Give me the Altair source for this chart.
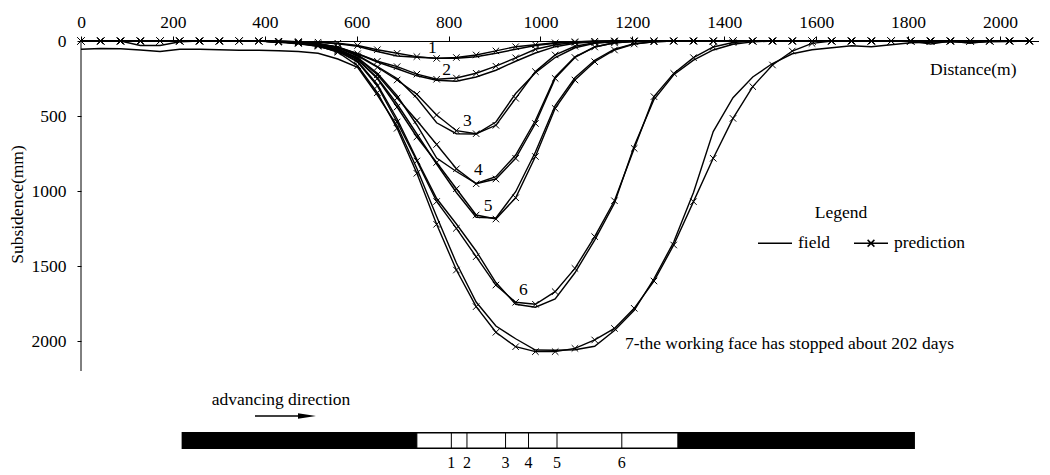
import altair as alt
import pandas as pd

# ---------------- data ----------------
distance = [0, 43, 86, 129, 172, 215, 258, 301, 344, 387,
            430, 473, 516, 559, 602, 645, 688, 731, 774, 817,
            860, 903, 946, 989, 1032, 1075, 1118, 1161, 1204, 1247,
            1290, 1333, 1376, 1419, 1462, 1505, 1548, 1591, 1634, 1677,
            1720, 1763, 1806, 1849, 1892, 1935, 1978, 2021, 2064]

pred_1 = [0, 0, 0, 0, 0, 0, 0, 0, 0, 0,
          2, 5, 8, 15, 30, 58, 82, 104, 116, 110,
          93, 66, 38, 25, 12, 5, 2, 0, 0, 0,
          0, 0, 0, 0, 0, 0, 0, 0, 0, 0,
          0, 0, 0, 0, 0, 0, 0, 0, 0]
pred_2 = [0, 0, 0, 0, 0, 0, 0, 0, 0, 0,
          2, 6, 18, 40, 85, 135, 171, 221, 255, 247,
          215, 168, 112, 55, 25, 10, 3, 0, 0, 0,
          0, 0, 0, 0, 0, 0, 0, 0, 0, 0,
          0, 0, 0, 0, 0, 0, 0, 0, 0]
pred_3 = [0, 0, 0, 0, 0, 0, 0, 0, 0, 0,
          4, 10, 22, 45, 100, 175, 260, 355, 493, 598,
          618, 562, 382, 204, 93, 35, 12, 4, 0, 0,
          0, 0, 0, 0, 0, 0, 0, 0, 0, 0,
          0, 0, 0, 0, 0, 0, 0, 0, 0]
pred_4 = [0, 0, 0, 0, 0, 0, 0, 0, 0, 0,
          5, 12, 26, 55, 115, 225, 380, 530, 690, 852,
          952, 920, 782, 550, 249, 110, 40, 12, 3, 0,
          0, 0, 0, 0, 0, 0, 0, 0, 0, 0,
          0, 0, 0, 0, 0, 0, 0, 0, 0]
pred_5 = [0, 0, 0, 0, 0, 0, 0, 0, 0, 0,
          5, 13, 30, 62, 125, 250, 440, 640, 810, 985,
          1160, 1187, 1045, 770, 449, 260, 138, 60, 20, 5,
          0, 0, 0, 0, 0, 0, 0, 0, 0, 0,
          0, 0, 0, 0, 0, 0, 0, 0, 0]
pred_6 = [0, 0, 0, 0, 0, 0, 0, 0, 0, 0,
          6, 15, 35, 70, 140, 300, 540, 800, 1070, 1249,
          1438, 1627, 1742, 1755, 1671, 1516, 1304, 1065, 716, 371,
          216, 111, 40, 10, 0, 0, 0, 0, 0, 0,
          0, 0, 0, 0, 0, 0, 0, 0, 0]
pred_7 = [0, 0, 0, 0, 0, 0, 0, 0, 0, 0,
          6, 14, 30, 75, 165, 345, 582, 882, 1222, 1527,
          1771, 1942, 2038, 2071, 2071, 2049, 1993, 1916, 1782, 1600,
          1360, 1071, 782, 516, 304, 160, 67, 16, 0, 0,
          0, 0, 0, 0, 0, 0, 0, 0, 0]

field_1 = [0, 0, 0, 0, 0, 0, 0, 0, 0, 0,
           2, 4, 8, 18, 35, 70, 100, 108, 115, 115,
           105, 82, 55, 30, 15, 6, 2, 0, 0, 0,
           0, 0, 0, 0, 0, 0, 0, 0, 0, 0,
           0, 0, 0, 0, 0, 0, 0, 0, 0]
field_2 = [0, 0, 0, 30, 30, 5, 0, 0, 0, 0,
           3, 7, 18, 42, 85, 140, 185, 232, 262, 268,
           240, 195, 135, 80, 38, 15, 5, 0, 0, 0,
           0, 0, 0, 0, 0, 0, 0, 0, 0, 0,
           0, 0, 0, 0, 0, 0, 0, 0, 0]
field_3 = [0, 0, 0, 0, 0, 0, 0, 0, 0, 0,
           5, 10, 20, 42, 95, 170, 250, 380, 545, 618,
           620, 540, 350, 212, 110, 45, 15, 5, 0, 0,
           0, 0, 0, 0, 0, 0, 0, 0, 0, 0,
           0, 0, 0, 0, 0, 0, 0, 0, 0]
field_4 = [0, 0, 0, 0, 0, 0, 0, 0, 0, 0,
           6, 12, 26, 52, 110, 215, 365, 560, 780, 870,
           950, 905, 760, 530, 240, 105, 40, 12, 4, 0,
           0, 0, 0, 0, 0, 0, 0, 0, 0, 0,
           0, 0, 0, 0, 0, 0, 0, 0, 0]
field_5 = [0, 0, 0, 0, 0, 0, 0, 0, 0, 0,
           6, 14, 30, 60, 122, 245, 420, 620, 820, 1010,
           1175, 1180, 1005, 740, 430, 245, 128, 55, 18, 5,
           0, 0, 0, 0, 0, 0, 0, 0, 0, 0,
           0, 0, 0, 0, 0, 0, 0, 0, 0]
field_6 = [0, 0, 0, 0, 0, 0, 0, 0, 0, 0,
           8, 18, 36, 68, 135, 290, 520, 790, 1050, 1220,
           1400, 1610, 1755, 1775, 1720, 1545, 1327, 1082, 700, 390,
           225, 128, 60, 22, 6, 0, 0, 0, 0, 0,
           0, 0, 0, 20, 0, 15, 0, 0, 0]
field_7 = [55, 50, 52, 60, 70, 55, 55, 58, 62, 62,
           65, 70, 82, 120, 175, 360, 565, 850, 1170, 1480,
           1740, 1900, 1985, 2060, 2062, 2058, 2035, 1930, 1795, 1585,
           1340, 1010, 604, 378, 240, 150, 85, 58, 45, 32,
           38, 25, 12, 8, 5, 10, 5, 3, 0]

predictions = [pred_1, pred_2, pred_3, pred_4, pred_5, pred_6, pred_7]
fields = [field_1, field_2, field_3, field_4, field_5, field_6, field_7]

curve_label_text = ["1", "2", "3", "4", "5", "6"]
curve_label_x = [765, 796, 841, 865, 886, 963]
curve_label_y = [49, 193, 535, 860, 1098, 1660]

note_text = ["7-the working face has stopped about 202 days"]
note_x = [1184]
note_y = [2022]

legend_types = ["field", "prediction"]

# working panel drawing under the chart (distances in m)
coal_bar = [219, 1815]
panel = [731, 1299]
face_positions = [806, 840, 924, 974, 1036, 1177]
face_labels = ["1", "2", "3", "4", "5", "6"]

x_ticks = [0, 200, 400, 600, 800, 1000, 1200, 1400, 1600, 1800, 2000]
y_ticks = [0, 500, 1000, 1500, 2000]
y_axis_extent = [0, 2200]

# ---------------- build tables ----------------
rows = []
for k in range(7):
    for x, v in zip(distance, fields[k]):
        rows.append({"x": x, "s": v, "series": f"field{k + 1}", "type": "field"})
    for x, v in zip(distance, predictions[k]):
        rows.append({"x": x, "s": v, "series": f"pred{k + 1}", "type": "prediction"})
df = pd.DataFrame(rows)
df_pred = df[df["type"] == "prediction"]

labels_df = pd.DataFrame({"x": curve_label_x, "s": curve_label_y, "t": curve_label_text})
note_df = pd.DataFrame({"x": note_x, "s": note_y, "t": note_text})
legend_df = pd.DataFrame({"x": [distance[0]] * 2, "s": [pred_1[0]] * 2, "type": legend_types})
axis_df = pd.DataFrame({"y0": [y_axis_extent[0]], "y1": [y_axis_extent[1]]})
bar_df = pd.DataFrame({"x0": [coal_bar[0]], "x1": [coal_bar[1]]})
panel_df = pd.DataFrame({"x0": [panel[0]], "x1": [panel[1]]})
face_df = pd.DataFrame({"x": face_positions, "t": face_labels})
one = pd.DataFrame({"a": [0]})

FONT = "Liberation Serif, Times New Roman, Times, serif"
FS = 17.5

x_scale = alt.Scale(domain=[0, 2085], nice=False, zero=False)
y_scale = alt.Scale(domain=[0, 2860], reverse=True, nice=False, zero=False)

x_axis = alt.Axis(orient="top", values=x_ticks, title="Distance(m)", grid=False, format="d",
                  labelFlush=False, tickSize=5, labelPadding=5,
                  titleX=935, titleY=28, titleAlign="right", titleBaseline="middle",
                  titleAnchor="end")
y_axis = alt.Axis(orient="left", values=y_ticks, title="Subsidence(mm)", grid=False, format="d",
                  domain=False, tickSize=4, labelPadding=11,
                  titleX=-64, titleY=163, titleAngle=270, titleAlign="center",
                  titleBaseline="middle")

lines = alt.Chart(df).mark_line(color="black", strokeWidth=1.4).encode(
    x=alt.X("x:Q", scale=x_scale, axis=x_axis),
    y=alt.Y("s:Q", scale=y_scale, axis=y_axis),
    detail="series:N",
    order="x:Q",
)

markers = alt.Chart(df_pred).mark_point(
    shape="M-1,-1L1,1M-1,1L1,-1", size=42, filled=False, color="black", strokeWidth=1, opacity=1
).encode(x="x:Q", y="s:Q")

yaxis_line = alt.Chart(axis_df).mark_rule(color="black", strokeWidth=1).encode(
    x=alt.value(0), y="y0:Q", y2="y1:Q"
)

curve_labels = alt.Chart(labels_df).mark_text(font=FONT, fontSize=FS, color="black").encode(
    x="x:Q", y="s:Q", text="t:N"
)

note = alt.Chart(note_df).mark_text(font=FONT, fontSize=FS, color="black", align="left",
                                    baseline="middle").encode(x="x:Q", y="s:Q", text="t:N")

legend_layer = alt.Chart(legend_df).mark_point(opacity=0, filled=False, color="black").encode(
    x="x:Q", y="s:Q",
    shape=alt.Shape(
        "type:N",
        scale=alt.Scale(domain=legend_types,
                        range=["M-1,0L1,0",
                               "M-1,0L1,0M-0.2,-0.2L0.2,0.2M-0.2,0.2L0.2,-0.2"]),
        legend=alt.Legend(title=None, orient="none", legendX=676, legendY=184,
                          direction="horizontal", symbolSize=1156, symbolStrokeWidth=1.5,
                          symbolStrokeColor="black", symbolFillColor="transparent",
                          symbolOpacity=1, labelFont=FONT, labelFontSize=FS,
                          labelColor="black", labelOffset=5,
                          columnPadding=20, padding=0),
    ),
)

legend_title = alt.Chart(one).mark_text(font=FONT, fontSize=FS, color="black").encode(
    x=alt.value(760), y=alt.value(172), text=alt.value("Legend")
)

bar = alt.Chart(bar_df).mark_rect(color="black").encode(
    x="x0:Q", x2="x1:Q", y=alt.value(391), y2=alt.value(408)
)
panel_rect = alt.Chart(panel_df).mark_rect(fill="white", stroke="black", strokeWidth=1).encode(
    x="x0:Q", x2="x1:Q", y=alt.value(392), y2=alt.value(407)
)
face_rules = alt.Chart(face_df).mark_rule(color="black", strokeWidth=1).encode(
    x="x:Q", y=alt.value(392), y2=alt.value(407)
)
face_text = alt.Chart(face_df).mark_text(font=FONT, fontSize=16, color="black").encode(
    x="x:Q", y=alt.value(422), text="t:N"
)
adv_text = alt.Chart(one).mark_text(font=FONT, fontSize=FS, color="black").encode(
    x=alt.value(200), y=alt.value(359), text=alt.value("advancing direction")
)
arrow_line = alt.Chart(one).mark_rule(color="black", strokeWidth=1.3).encode(
    x=alt.value(174), x2=alt.value(222), y=alt.value(375)
)
arrow_head = alt.Chart(one).mark_point(shape="M-1,-0.3L1,0L-1,0.3Z", filled=True, size=324,
                                        color="black", opacity=1).encode(
    x=alt.value(226), y=alt.value(375)
)

chart = alt.layer(
    lines, markers, yaxis_line, curve_labels, note, legend_layer, legend_title,
    bar, panel_rect, face_rules, face_text, adv_text, arrow_line, arrow_head
).properties(
    width=958, height=429,
    autosize=alt.AutoSizeParams(type="none"),
    padding={"left": 73, "top": 33, "right": 0, "bottom": 4},
    background="white",
).configure_view(stroke=None).configure_axis(
    labelFont=FONT, labelFontSize=FS, labelColor="black",
    titleFont=FONT, titleFontSize=FS, titleColor="black", titleFontWeight="normal",
    domainColor="black", tickColor="black", domainWidth=1, tickWidth=1,
)

chart.save("out.html", embed_options={"renderer": "svg", "actions": False})
